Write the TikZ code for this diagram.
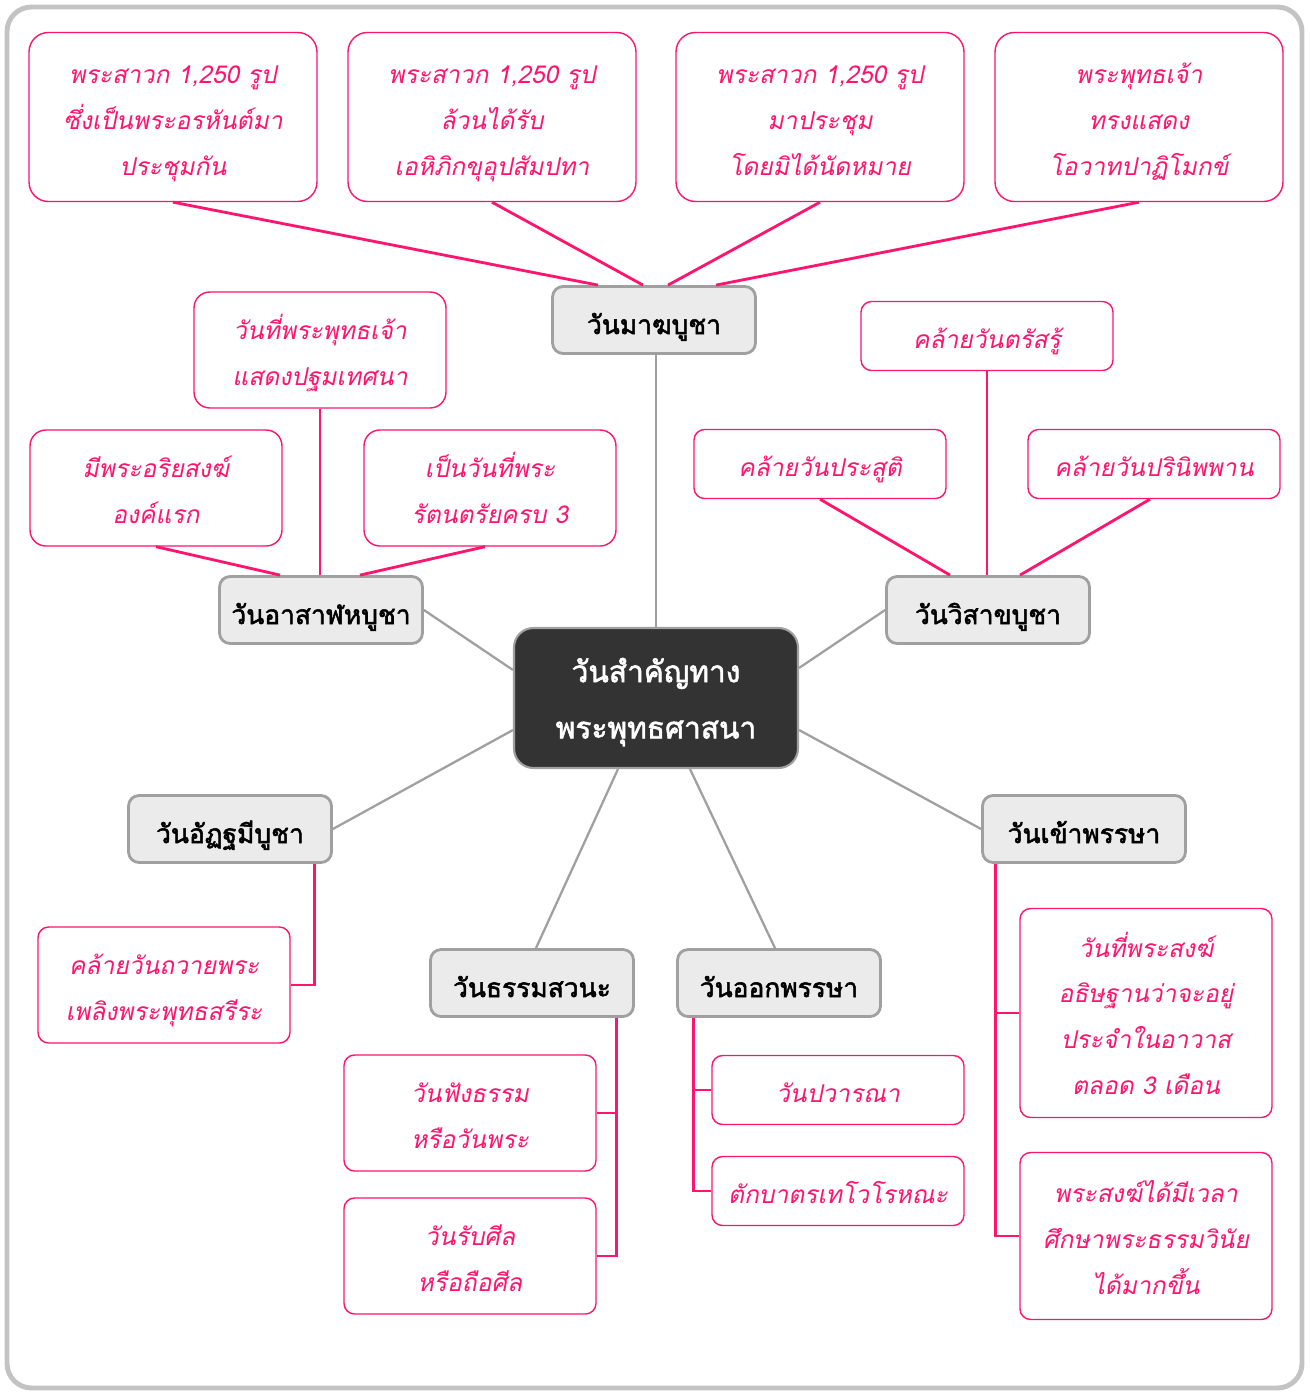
\documentclass[tikz,border=0pt]{standalone}
\usepackage{fontspec}
\newfontfamily\thaifont[Script=Thai,AutoFakeSlant=0.2,AutoFakeBold=2]{Loma}
\usetikzlibrary{positioning}
\definecolor{hotpink}{RGB}{255,20,110}
\definecolor{hubline}{RGB}{160,160,160}
\definecolor{hubfill}{RGB}{235,235,235}
\definecolor{rootfill}{RGB}{51,51,51}
\definecolor{framegray}{RGB}{195,195,195}
\tikzset{
    frame/.style={
        draw=framegray,
        line width=2.8pt,
        rounded corners=14pt},
    root/.style={
        draw=hubline, fill=rootfill,
        line width=1.2pt,
        rounded corners=11pt,
        minimum width=5.68cm, minimum height=2.8cm,
        align=center, text=white,
        text height=51pt, text depth=5pt,
        font=\thaifont\bfseries\fontsize{17}{32}\selectfont},
    hub/.style={
        draw=hubline, fill=hubfill,
        line width=1.6pt,
        rounded corners=6pt,
        minimum width=4.06cm, minimum height=1.34cm,
        align=center, text=black,
        text height=20pt, text depth=4pt,
        font=\thaifont\bfseries\fontsize{15}{20}\selectfont},
    leaf/.style={
        draw=hotpink, fill=white,
        line width=0.8pt,
        rounded corners=6pt,
        minimum width=5.04cm,
        align=center, text=hotpink,
        text depth=4pt,
        font=\thaifont\itshape\fontsize{14}{26}\selectfont},
    oneline/.style={leaf, minimum height=1.38cm, text height=18pt},
    twoline/.style={leaf, minimum height=2.32cm, text height=44.4pt},
    threeline/.style={leaf, text height=70.4pt},
    fourline/.style={leaf, text height=96.4pt},
    bigleaf/.style={
        threeline,
        rounded corners=11pt,
        minimum width=5.76cm, minimum height=3.38cm},
    trunk/.style={
        draw=hubline,
        line width=1.3pt},
    branch/.style={
        draw=hotpink,
        line width=1.6pt}}

\begin{document}
\begin{tikzpicture}[x=0.02cm,y=-0.02cm]
    \useasboundingbox (0,0) rectangle (1309,1392);
    \draw[frame] (7,7) rectangle (1302,1388);

    \node[root] (root) at (656,698) {วันสำคัญทาง\\พระพุทธศาสนา};

    \node[hub] (magha) at (654,320) {วันมาฆบูชา};
    \node[hub] (asalha) at (321,610) {วันอาสาฬหบูชา};
    \node[hub] (visakha) at (988,610) {วันวิสาขบูชา};
    \node[hub] (atthami) at (230,829) {วันอัฏฐมีบูชา};
    \node[hub] (khao) at (1084,829) {วันเข้าพรรษา};
    \node[hub] (savana) at (532,983) {วันธรรมสวนะ};
    \node[hub] (ok) at (779,983) {วันออกพรรษา};

    \draw[trunk] (root.north) -- (root.north |- magha.south);
    \draw[trunk] (asalha.east) -- ([yshift=0.56cm]root.west);
    \draw[trunk] (visakha.west) -- ([yshift=0.6cm]root.east);
    \draw[trunk] (atthami.east) -- ([yshift=-0.64cm]root.west);
    \draw[trunk] (khao.west) -- ([yshift=-0.64cm]root.east);
    \draw[trunk] ([xshift=0.08cm]savana.north) -- ([xshift=-0.76cm]root.south);
    \draw[trunk] ([xshift=-0.08cm]ok.north) -- ([xshift=0.68cm]root.south);

    % magha
    \node[bigleaf] (m1) at (173,117) {พระสาวก 1,250 รูป\\ซึ่งเป็นพระอรหันต์มา\\ประชุมกัน};
    \node[bigleaf] (m2) at (492,117) {พระสาวก 1,250 รูป\\ล้วนได้รับ\\เอหิภิกขุอุปสัมปทา};
    \node[bigleaf] (m3) at (820,117) {พระสาวก 1,250 รูป\\มาประชุม\\โดยมิได้นัดหมาย};
    \node[bigleaf] (m4) at (1139,117) {พระพุทธเจ้า\\ทรงแสดง\\โอวาทปาฏิโมกข์};
    \draw[branch] (m1.south) -- ([xshift=-1.12cm]magha.north);
    \draw[branch] (m2.south) -- ([xshift=-0.22cm]magha.north);
    \draw[branch] (m3.south) -- ([xshift=0.28cm]magha.north);
    \draw[branch] (m4.south) -- ([xshift=1.24cm]magha.north);

    % asalha
    \node[twoline, rounded corners=9pt] (a1) at (320,350) {วันที่พระพุทธเจ้า\\แสดงปฐมเทศนา};
    \node[twoline, rounded corners=9pt] (a2) at (156,488) {มีพระอริยสงฆ์\\องค์แรก};
    \node[twoline, rounded corners=9pt] (a3) at (490,488) {เป็นวันที่พระ\\รัตนตรัยครบ 3};
    \draw[branch] (a1.south) -- (a1.south |- asalha.north);
    \draw[branch] (a2.south) -- ([xshift=-0.82cm]asalha.north);
    \draw[branch] ([xshift=-0.1cm]a3.south) -- ([xshift=0.78cm]asalha.north);

    % visakha
    \node[oneline] (v1) at (987,336) {คล้ายวันตรัสรู้};
    \node[oneline] (v2) at (820,464) {คล้ายวันประสูติ};
    \node[oneline] (v3) at (1154,464) {คล้ายวันปรินิพพาน};
    \draw[branch] (v1.south) -- (v1.south |- visakha.north);
    \draw[branch] (v2.south) -- ([xshift=-0.76cm]visakha.north);
    \draw[branch] ([xshift=-0.08cm]v3.south) -- ([xshift=0.64cm]visakha.north);

    % atthami
    \node[twoline] (t1) at (164,985) {คล้ายวันถวายพระ\\เพลิงพระพุทธสรีระ};
    \draw[branch] ([xshift=-0.36cm]atthami.south east) |- (t1.east);

    % savana
    \node[twoline] (s1) at (470,1113) {วันฟังธรรม\\หรือวันพระ};
    \node[twoline] (s2) at (470,1256) {วันรับศีล\\หรือถือศีล};
    \draw[branch] ([xshift=-0.36cm]savana.south east) |- (s1.east);
    \draw[branch] ([xshift=-0.36cm]savana.south east) |- (s2.east);

    % ok
    \node[oneline] (o1) at (838,1090) {วันปวารณา};
    \node[oneline] (o2) at (838,1191) {ตักบาตรเทโวโรหณะ};
    \draw[branch] ([xshift=0.34cm]ok.south west) |- (o1.west);
    \draw[branch] ([xshift=0.34cm]ok.south west) |- (o2.west);

    % khao
    \node[fourline, minimum height=4.18cm] (k1) at (1146,1013) {วันที่พระสงฆ์\\อธิษฐานว่าจะอยู่\\ประจำในอาวาส\\ตลอด 3 เดือน};
    \node[threeline, minimum height=3.34cm] (k2) at (1146,1236) {พระสงฆ์ได้มีเวลา\\ศึกษาพระธรรมวินัย\\ได้มากขึ้น};
    \draw[branch] ([xshift=0.28cm]khao.south west) |- (k1.west);
    \draw[branch] ([xshift=0.28cm]khao.south west) |- (k2.west);
\end{tikzpicture}
\end{document}
